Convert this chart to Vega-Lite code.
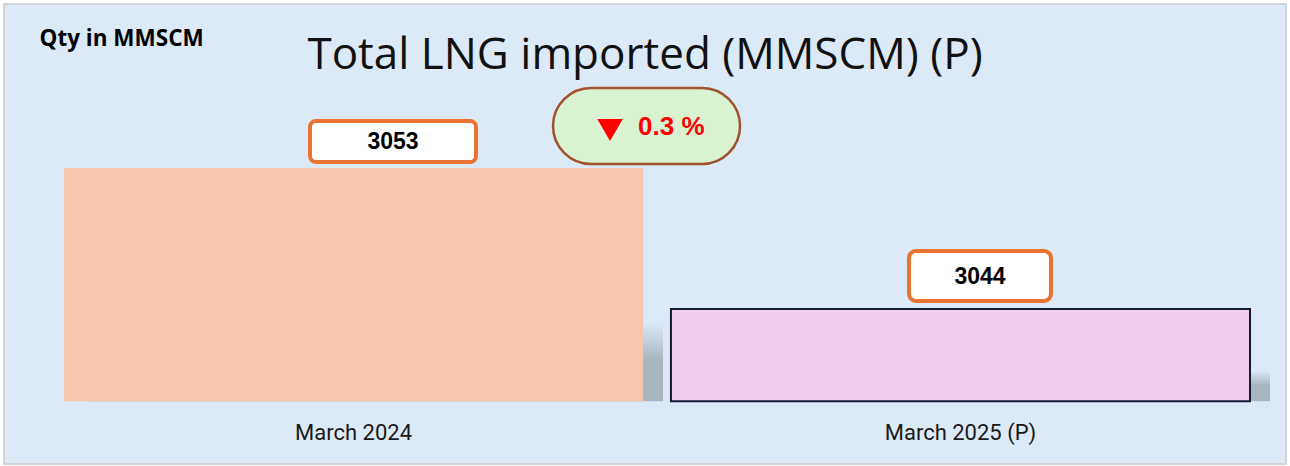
{
  "$schema": "https://vega.github.io/schema/vega-lite/v6.json",
  "width": 1282,
  "height": 460,
  "autosize": {"type": "none"},
  "padding": {"left": 4, "top": 4, "right": 4, "bottom": 2},
  "background": "white",
  "config": {"view": {"fill": "#dce9f6", "stroke": "#d4d4d4", "strokeWidth": 2}},
  "title": {
    "text": "Total LNG imported (MMSCM) (P)",
    "font": "Open Sans",
    "fontSize": 44,
    "fontWeight": "normal",
    "color": "#111111",
    "anchor": "middle",
    "baseline": "alphabetic",
    "offset": -66,
    "dy": 43
  },
  "data": {"values": [
    {"period": "March 2024", "qty": 3053},
    {"period": "March 2025 (P)", "qty": 3044}
  ]},
  "encoding": {
    "x": {
      "field": "period", "type": "nominal", "sort": null,
      "scale": {"range": [60, 1246], "paddingInner": 0.046, "paddingOuter": 0},
      "axis": {
        "title": null, "domain": false, "ticks": false, "labelAngle": 0,
        "labelFont": "Roboto", "labelFontSize": 22, "labelColor": "#1a1a1a",
        "offset": -45, "labelPadding": 3
      }
    }
  },
  "layer": [
    {
      "mark": {
        "type": "bar", "xOffset": 20, "yOffset": 2,
        "fill": {"gradient": "linear", "x1": 0, "y1": 0, "x2": 0, "y2": 1, "stops": [
          {"offset": 0, "color": "rgba(160,172,184,0)"},
          {"offset": 0.66, "color": "rgba(160,172,184,0)"},
          {"offset": 0.82, "color": "rgba(160,172,184,0.85)"},
          {"offset": 1, "color": "rgba(160,172,184,0.85)"}
        ]}
      },
      "encoding": {
        "y": {"field": "qty", "type": "quantitative"},
        "y2": {"datum": 3038.1}
      }
    },
    {
      "mark": {"type": "bar", "stroke": "#141a33"},
      "encoding": {
        "y": {
          "field": "qty", "type": "quantitative",
          "scale": {"domain": [3034.1, 3063.47], "zero": false, "nice": false},
          "axis": {
            "title": "Qty in MMSCM", "labels": false, "ticks": false, "domain": false, "grid": false,
            "titleAngle": 0, "titleX": 35, "titleY": 41, "titleAlign": "left", "titleBaseline": "alphabetic",
            "titleFont": "Open Sans", "titleFontSize": 22.5, "titleFontWeight": "bold", "titleColor": "#000000"
          }
        },
        "y2": {"datum": 3038.1},
        "color": {"field": "period", "type": "nominal", "sort": null, "scale": {"range": ["#f5c7ad", "#f1cdee"]}, "legend": null},
        "strokeWidth": {"condition": {"test": "datum.period == 'March 2024'", "value": 0}, "value": 2}
      }
    },
    {
      "transform": [{"filter": "datum.period == 'March 2024'"}],
      "mark": {"type": "rect", "width": 166, "height": 41, "cornerRadius": 6, "fill": "white", "stroke": "#ea7232", "strokeWidth": 4, "xOffset": 39.5, "yOffset": -26.5},
      "encoding": {"y": {"field": "qty", "type": "quantitative"}}
    },
    {
      "transform": [{"filter": "datum.period == 'March 2024'"}],
      "mark": {"type": "text", "font": "Liberation Sans", "fontWeight": "bold", "fontSize": 23, "color": "#000000", "baseline": "middle", "xOffset": 39.5, "yOffset": -25.5},
      "encoding": {"y": {"field": "qty", "type": "quantitative"}, "text": {"field": "qty", "type": "quantitative", "format": "d"}}
    },
    {
      "transform": [{"filter": "datum.period == 'March 2025 (P)'"}],
      "mark": {"type": "rect", "width": 142, "height": 50, "cornerRadius": 7, "fill": "white", "stroke": "#ea7232", "strokeWidth": 4, "xOffset": 19.5, "yOffset": -33},
      "encoding": {"y": {"field": "qty", "type": "quantitative"}}
    },
    {
      "transform": [{"filter": "datum.period == 'March 2025 (P)'"}],
      "mark": {"type": "text", "font": "Liberation Sans", "fontWeight": "bold", "fontSize": 23, "color": "#000000", "baseline": "middle", "xOffset": 19.5, "yOffset": -32},
      "encoding": {"y": {"field": "qty", "type": "quantitative"}, "text": {"field": "qty", "type": "quantitative", "format": "d"}}
    },
    {
      "data": {"values": [{"change": "0.3 %"}]},
      "mark": {"type": "rect", "width": 187, "height": 76, "cornerRadius": 38, "fill": "#d9f2d0", "stroke": "#a0522d", "strokeWidth": 2.5, "xOffset": 293, "yOffset": -42},
      "encoding": {"x": {"datum": "March 2024"}, "y": {"datum": 3053}}
    },
    {
      "data": {"values": [{"change": "0.3 %"}]},
      "mark": {"type": "point", "shape": "triangle-down", "filled": true, "size": 650, "color": "#ff0000", "opacity": 1, "xOffset": -33, "yOffset": -38},
      "encoding": {"x": {"datum": "March 2024", "bandPosition": 1}, "y": {"datum": 3053}}
    },
    {
      "data": {"values": [{"change": "0.3 %"}]},
      "mark": {"type": "text", "font": "Liberation Sans", "fontWeight": "bold", "fontSize": 26, "color": "#ff0000", "align": "left", "baseline": "middle", "xOffset": -5, "yOffset": -41},
      "encoding": {"x": {"datum": "March 2024", "bandPosition": 1}, "y": {"datum": 3053}, "text": {"field": "change"}}
    }
  ]
}
